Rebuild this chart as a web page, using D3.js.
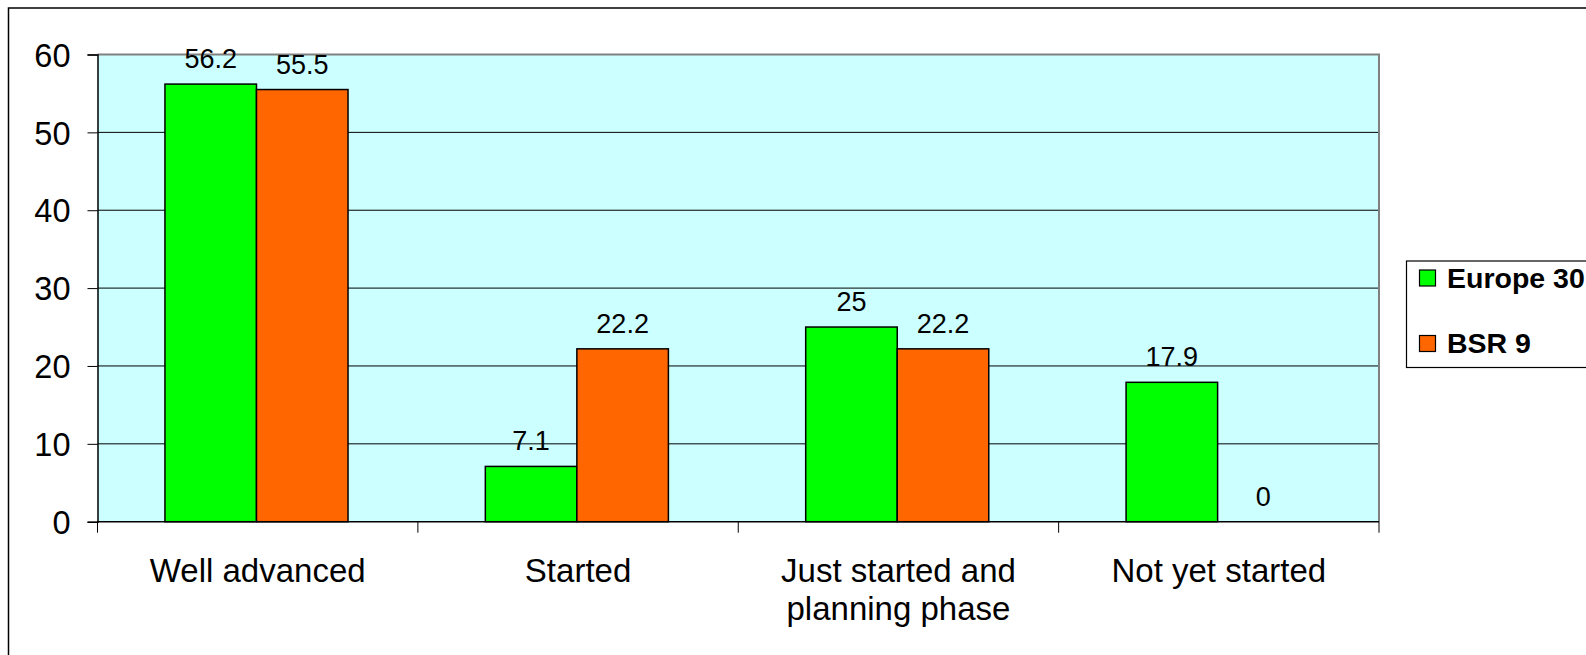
<!DOCTYPE html>
<html>
<head>
<meta charset="utf-8">
<script src="https://cdn.jsdelivr.net/npm/d3@7/dist/d3.min.js"></script>
<style>
  html, body { margin: 0; padding: 0; background: #fff; overflow: hidden; }
  svg { display: block; font-family: "Liberation Sans", Arial, sans-serif; }
</style>
</head>
<body>
<svg id="chart" width="1586" height="655"></svg>
<script>
// Progress status by group (percent of respondents)
const categories = ["Well advanced", "Started", "Just started and planning phase", "Not yet started"];
const seriesNames = ["Europe 30", "BSR 9"];
const europe30 = [56.2, 7.1, 25, 17.9];
const bsr9 = [55.5, 22.2, 22.2, 0];
const seriesColors = ["#00FF00", "#FF6600"];
const yTicks = [0, 10, 20, 30, 40, 50, 60];

const seriesValues = [europe30, bsr9];
const rows = categories.map((c, i) => ({
  category: c,
  values: seriesNames.map((s, j) => ({ series: s, value: seriesValues[j][i], color: seriesColors[j] }))
}));

const svg = d3.select("#chart");

// plot area bounds
const plot = { left: 97.5, right: 1379, top: 54.5, bottom: 521.7 };

// outer chart frame (runs past the right and bottom edges)
svg.append("rect")
  .attr("x", 8.5).attr("y", 8)
  .attr("width", 2000).attr("height", 2000)
  .attr("fill", "#fff")
  .attr("stroke", "#000").attr("stroke-width", 1.5);

const x = d3.scaleBand()
  .domain(categories)
  .range([plot.left, plot.right])
  .paddingInner(0).paddingOuter(0);

// two bars per category, gap between groups = 1.5 bar widths
const gapRatio = 1.5;
const barW = x.bandwidth() / (seriesNames.length + gapRatio);
const x1 = d3.scaleBand()
  .domain(seriesNames)
  .range([barW * gapRatio / 2 - 1.2, barW * gapRatio / 2 - 1.2 + barW * seriesNames.length])
  .padding(0);

const y = d3.scaleLinear().domain([0, 60]).range([plot.bottom, plot.top]);

// plot background
svg.append("rect")
  .attr("x", plot.left).attr("y", plot.top)
  .attr("width", plot.right - plot.left).attr("height", plot.bottom - plot.top)
  .attr("fill", "#CCFFFF");

// horizontal gridlines
svg.append("g")
  .selectAll("line")
  .data(yTicks.filter(t => t > 0 && t < 60))
  .join("line")
  .attr("x1", plot.left).attr("x2", plot.right)
  .attr("y1", d => y(d)).attr("y2", d => y(d))
  .attr("stroke", "#000").attr("stroke-width", 1);

// plot area top/right border
svg.append("path")
  .attr("d", `M${plot.left},${y(60)}H${plot.right}V${plot.bottom}`)
  .attr("fill", "none")
  .attr("stroke", "#808080").attr("stroke-width", 2);

// bars
const groups = svg.append("g")
  .selectAll("g")
  .data(rows)
  .join("g")
  .attr("transform", d => `translate(${x(d.category)},0)`);

groups.selectAll("rect")
  .data(d => d.values)
  .join("rect")
  .attr("x", d => x1(d.series))
  .attr("y", d => y(d.value))
  .attr("width", x1.bandwidth())
  .attr("height", d => y(0) - y(d.value))
  .attr("fill", d => d.color)
  .attr("stroke", "#000")
  .attr("stroke-width", 1.5);

// value labels
groups.selectAll("text")
  .data(d => d.values)
  .join("text")
  .attr("x", d => x1(d.series) + x1.bandwidth() / 2)
  .attr("y", d => y(d.value) - 16)
  .attr("text-anchor", "middle")
  .attr("font-size", "27px")
  .attr("fill", "#000")
  .text(d => d.value);

// y axis
const yAxis = d3.axisLeft(y).tickValues(yTicks).tickSize(10).tickPadding(17);
const gy = svg.append("g")
  .attr("transform", `translate(${plot.left},0)`)
  .call(yAxis);
gy.select(".domain").attr("stroke", "#000").attr("stroke-width", 1.5);
gy.selectAll(".tick line").attr("stroke", "#000").attr("stroke-width", 1);
gy.selectAll(".tick text")
  .attr("font-size", "32.5px")
  .attr("font-family", "\"Liberation Sans\", Arial, sans-serif")
  .attr("fill", "#000")
  .attr("dy", "0.36em");

// x axis: ticks at category boundaries
const boundaries = categories.map(c => x(c)).concat([plot.right]);
svg.append("line")
  .attr("x1", plot.left).attr("x2", plot.right)
  .attr("y1", plot.bottom).attr("y2", plot.bottom)
  .attr("stroke", "#000").attr("stroke-width", 1.5);
svg.append("g")
  .selectAll("line")
  .data(boundaries)
  .join("line")
  .attr("x1", d => d).attr("x2", d => d)
  .attr("y1", plot.bottom).attr("y2", plot.bottom + 11)
  .attr("stroke", "#000").attr("stroke-width", 1);

// category labels with word wrap
function wrap(textSel, maxWidth, lineHeight) {
  textSel.each(function () {
    const t = d3.select(this);
    const words = t.text().split(/\s+/);
    const xPos = t.attr("x");
    t.text(null);
    let line = [];
    let tspan = t.append("tspan").attr("x", xPos).attr("dy", 0);
    words.forEach(w => {
      line.push(w);
      tspan.text(line.join(" "));
      if (tspan.node().getComputedTextLength() > maxWidth && line.length > 1) {
        line.pop();
        tspan.text(line.join(" "));
        line = [w];
        tspan = t.append("tspan").attr("x", xPos).attr("dy", lineHeight).text(w);
      }
    });
  });
}

svg.append("g")
  .selectAll("text")
  .data(categories)
  .join("text")
  .attr("x", d => x(d) + x.bandwidth() / 2)
  .attr("y", 581.5)
  .attr("text-anchor", "middle")
  .attr("font-size", "33px")
  .attr("fill", "#000")
  .text(d => d)
  .call(wrap, 295, 38.5);

// legend
const legend = svg.append("g");
legend.append("rect")
  .attr("x", 1406.5).attr("y", 261)
  .attr("width", 300).attr("height", 106.5)
  .attr("fill", "#fff")
  .attr("stroke", "#000").attr("stroke-width", 1.2);

const legendItems = legend.selectAll("g.item")
  .data(seriesNames)
  .join("g")
  .attr("class", "item")
  .attr("transform", (d, i) => `translate(1419.5,${270 + i * 65.5})`);

legendItems.append("rect")
  .attr("x", 0).attr("y", 0)
  .attr("width", 16).attr("height", 16)
  .attr("fill", (d, i) => seriesColors[i])
  .attr("stroke", "#000").attr("stroke-width", 1.2);

legendItems.append("text")
  .attr("x", 27.5).attr("y", 17.5)
  .attr("font-size", "28.5px")
  .attr("font-weight", "bold")
  .attr("fill", "#000")
  .text(d => d);
</script>
</body>
</html>
